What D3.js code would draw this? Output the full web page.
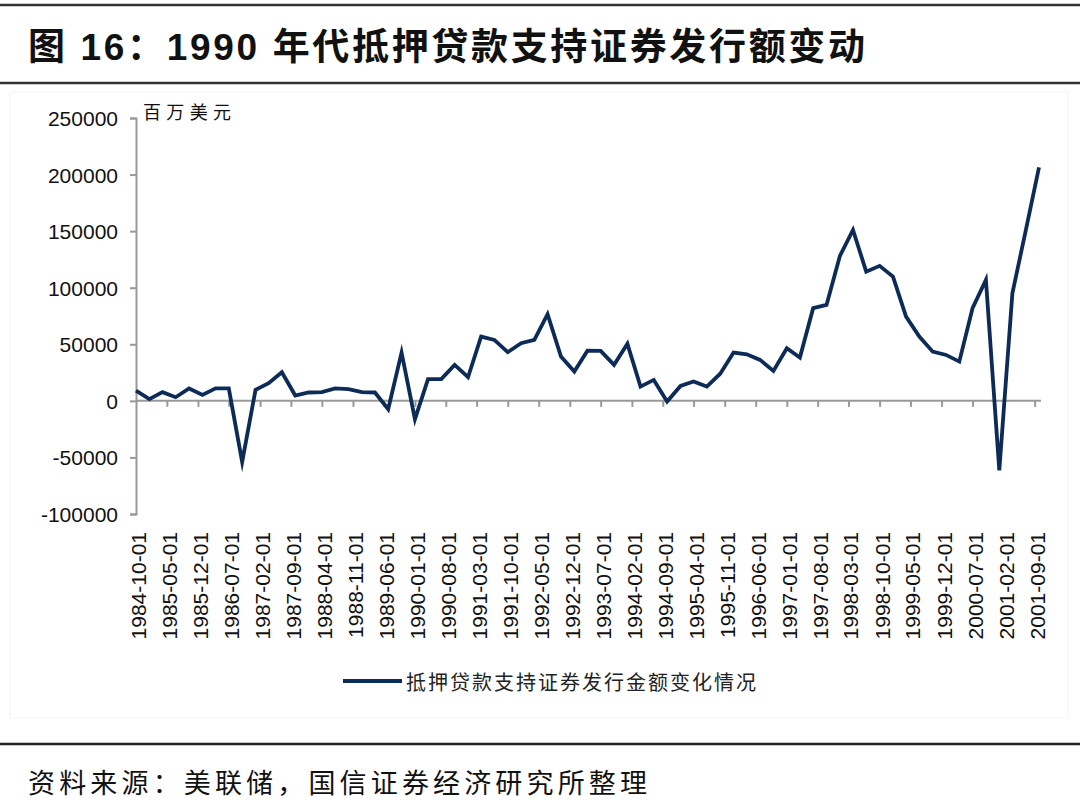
<!DOCTYPE html>
<html><head><meta charset="utf-8">
<script src="https://cdn.jsdelivr.net/npm/d3@7/dist/d3.min.js"></script>
<style>
html,body{margin:0;padding:0;background:#fff;}
svg{display:block;}
</style></head>
<body>
<svg id="chart" width="1080" height="805"></svg>
<script>
const titleText = "图 16：1990 年代抵押贷款支持证券发行额变动";
const unitText = "百万美元";
const seriesName = "抵押贷款支持证券发行金额变化情况";
const sourceText = "资料来源：美联储，国信证券经济研究所整理";

const dates = [
"1984-10-01","1985-01-01","1985-04-01","1985-07-01","1985-10-01","1986-01-01","1986-04-01","1986-07-01",
"1986-10-01","1987-01-01","1987-04-01","1987-07-01","1987-10-01","1988-01-01","1988-04-01","1988-07-01",
"1988-10-01","1989-01-01","1989-04-01","1989-07-01","1989-10-01","1990-01-01","1990-04-01","1990-07-01",
"1990-10-01","1991-01-01","1991-04-01","1991-07-01","1991-10-01","1992-01-01","1992-04-01","1992-07-01",
"1992-10-01","1993-01-01","1993-04-01","1993-07-01","1993-10-01","1994-01-01","1994-04-01","1994-07-01",
"1994-10-01","1995-01-01","1995-04-01","1995-07-01","1995-10-01","1996-01-01","1996-04-01","1996-07-01",
"1996-10-01","1997-01-01","1997-04-01","1997-07-01","1997-10-01","1998-01-01","1998-04-01","1998-07-01",
"1998-10-01","1999-01-01","1999-04-01","1999-07-01","1999-10-01","2000-01-01","2000-04-01","2000-07-01",
"2000-10-01","2001-01-01","2001-04-01","2001-07-01","2001-10-01"];

const values = [
9000,1500,7700,3200,10900,5300,11000,11000,
-54000,9700,15600,25300,4700,7400,7700,11000,
10300,7700,7400,-7400,42700,-16200,19200,19200,
31800,20900,56800,53900,43000,51000,53900,76600,
39100,25900,44400,44100,31800,50400,12600,18500,
-600,13200,17100,12600,24000,42700,41200,36200,
26500,46500,38300,81900,84800,128100,151000,114200,
119300,109800,74500,56800,43500,40600,34700,81900,
106900,-61500,95100,150000,206400];

const xTickLabels = ["1984-10-01","1985-05-01","1985-12-01","1986-07-01","1987-02-01","1987-09-01",
"1988-04-01","1988-11-01","1989-06-01","1990-01-01","1990-08-01","1991-03-01","1991-10-01","1992-05-01",
"1992-12-01","1993-07-01","1994-02-01","1994-09-01","1995-04-01","1995-11-01","1996-06-01","1997-01-01",
"1997-08-01","1998-03-01","1998-10-01","1999-05-01","1999-12-01","2000-07-01","2001-02-01","2001-09-01"];

const yTicks = [-100000,-50000,0,50000,100000,150000,200000,250000];

const parse = d3.utcParse("%Y-%m-%d");
const data = dates.map((d,i)=>({date:parse(d), value:values[i]}));

const svg = d3.select("#chart");
const latin = "'Liberation Sans', Arial, 'Noto Sans CJK SC', sans-serif";
const cjk = "'Noto Sans CJK SC', sans-serif";

// frame lines
svg.append("rect").attr("x",10).attr("y",92).attr("width",1058).attr("height",626)
  .attr("fill","none").attr("stroke","#f4f4f4").attr("stroke-width",1);
svg.append("line").attr("x1",0).attr("x2",1080).attr("y1",5).attr("y2",5).attr("stroke","#333").attr("stroke-width",2.5);
svg.append("line").attr("x1",0).attr("x2",1080).attr("y1",83).attr("y2",83).attr("stroke","#333").attr("stroke-width",2.5);
svg.append("line").attr("x1",0).attr("x2",1080).attr("y1",744).attr("y2",744).attr("stroke","#222").attr("stroke-width",2.5);

svg.append("text").attr("x",28).attr("y",60).attr("font-family",latin).attr("font-weight",700)
  .attr("font-size",37).attr("fill","#111").attr("textLength",837).attr("lengthAdjust","spacing").text(titleText);

svg.append("text").attr("x",28).attr("y",793).attr("font-family",cjk)
  .attr("font-size",27).attr("fill","#111").attr("textLength",619).attr("lengthAdjust","spacing").text(sourceText);

// scales
const x = d3.scaleUtc().domain([parse("1984-10-01"), parse("2001-10-01")]).range([136, 1039]);
const y = d3.scaleLinear().domain([-100000, 250000]).range([514, 118]);

// y axis
const yAxis = svg.append("g").attr("transform","translate(136,0)")
  .call(d3.axisLeft(y).tickValues(yTicks).tickSize(6).tickPadding(12).tickFormat(d => String(d)));
yAxis.select(".domain").attr("stroke","#999").attr("stroke-width",2);
yAxis.selectAll(".tick line").attr("stroke","#999").attr("stroke-width",2);
yAxis.selectAll(".tick text").attr("font-family",latin).attr("font-size",21).attr("fill","#111").attr("dy","0.36em");

// x axis at zero
const tickDates = xTickLabels.map(parse);
const xAxis = svg.append("g").attr("transform",`translate(0,${y(0)})`)
  .call(d3.axisBottom(x).tickValues(tickDates).tickSize(6).tickFormat(""));
xAxis.select(".domain").attr("stroke","#999").attr("stroke-width",2).attr("d","M136,0H1041");
xAxis.selectAll(".tick line").attr("stroke","#999").attr("stroke-width",2);
xAxis.selectAll(".tick").filter((d,i)=>i===0).select("line").remove();

// x labels rotated
svg.append("g").selectAll("text").data(xTickLabels).join("text")
  .attr("transform", d => `translate(${x(parse(d))+10},532) rotate(-90)`)
  .attr("text-anchor","end").attr("font-family",latin).attr("font-size",21).attr("fill","#111")
  .text(d=>d);

// unit
svg.append("text").attr("x",143).attr("y",119).attr("font-family",cjk).attr("font-size",18)
  .attr("fill","#111").attr("textLength",88).attr("lengthAdjust","spacing").text(unitText);

// line
const line = d3.line().x(d=>x(d.date)).y(d=>y(d.value));
svg.append("path").datum(data).attr("d",line).attr("fill","none")
  .attr("stroke","#0d2b57").attr("stroke-width",3.8).attr("stroke-linejoin","miter").attr("stroke-miterlimit",10);

// legend
svg.append("line").attr("x1",343).attr("x2",402).attr("y1",681).attr("y2",681)
  .attr("stroke","#0d2b57").attr("stroke-width",4);
svg.append("text").attr("x",406).attr("y",690).attr("font-family",cjk).attr("font-size",20)
  .attr("fill","#222").attr("textLength",350).attr("lengthAdjust","spacing").text(seriesName);
</script>
</body></html>
